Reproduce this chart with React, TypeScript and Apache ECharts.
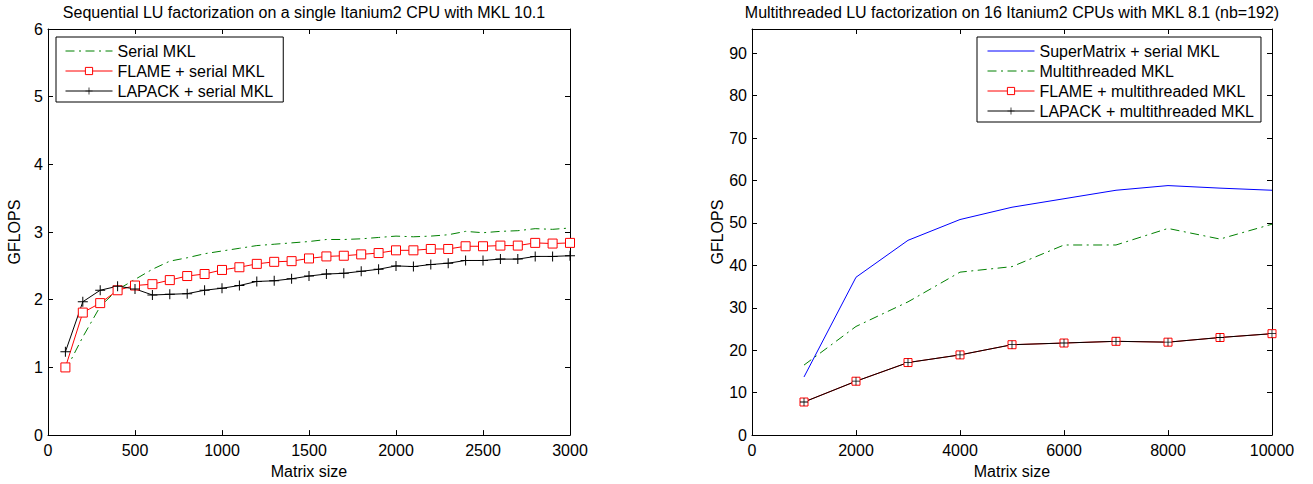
import React, { useEffect, useRef } from "react";
import * as echarts from "echarts";

// ---------- Data ----------
const leftSizes = [100, 200, 300, 400, 500, 600, 700, 800, 900, 1000, 1100, 1200, 1300, 1400, 1500, 1600, 1700, 1800, 1900, 2000, 2100, 2200, 2300, 2400, 2500, 2600, 2700, 2800, 2900, 3000];
const serialMKL = [0.95, 1.45, 1.9, 2.15, 2.3, 2.45, 2.57, 2.62, 2.68, 2.72, 2.76, 2.8, 2.82, 2.84, 2.86, 2.89, 2.89, 2.9, 2.92, 2.94, 2.93, 2.94, 2.96, 3.01, 2.99, 3.01, 3.02, 3.05, 3.04, 3.06];
const flameSerial = [1.0, 1.81, 1.95, 2.14, 2.21, 2.23, 2.29, 2.35, 2.38, 2.44, 2.48, 2.53, 2.56, 2.57, 2.61, 2.64, 2.65, 2.67, 2.69, 2.73, 2.73, 2.75, 2.75, 2.79, 2.79, 2.8, 2.8, 2.84, 2.83, 2.84];
const lapackSerial = [1.23, 1.97, 2.14, 2.2, 2.16, 2.07, 2.08, 2.09, 2.14, 2.17, 2.21, 2.27, 2.28, 2.31, 2.35, 2.38, 2.39, 2.42, 2.45, 2.5, 2.49, 2.52, 2.54, 2.58, 2.58, 2.6, 2.6, 2.64, 2.64, 2.65];

const rightSizes = [1000, 2000, 3000, 4000, 5000, 6000, 7000, 8000, 9000, 10000];
const superMatrix = [13.7, 37.2, 45.9, 50.8, 53.7, 55.7, 57.7, 58.8, 58.2, 57.7];
const multiMKL = [16.5, 25.6, 31.4, 38.4, 39.7, 44.8, 44.8, 48.7, 46.2, 49.7];
const flameMulti = [7.8, 12.7, 17.1, 18.9, 21.3, 21.7, 22.1, 21.9, 23.0, 23.9];
const lapackMulti = [7.8, 12.7, 17.1, 18.9, 21.3, 21.7, 22.1, 21.9, 23.0, 23.9];

const leftTitle = "Sequential LU factorization on a single Itanium2 CPU with MKL 10.1";
const rightTitle = "Multithreaded LU factorization on 16 Itanium2 CPUs with MKL 8.1 (nb=192)";
const xName = "Matrix size";
const yName = "GFLOPS";

const FONT = "Liberation Sans, Arial, Helvetica, sans-serif";
const PLUS = "path://M9,0H11V9H20V11H11V20H9V11H0V9H9Z";
const DASHDOT = [9, 4.5, 2, 4.5];

const pairs = (xs: number[], ys: number[]) => xs.map((x, i) => [x, ys[i]]);
const plain = (v: number) => String(v);

function axisBase(grid: number, min: number, max: number, interval: number) {
  return {
    gridIndex: grid,
    type: "value" as const,
    min,
    max,
    interval,
    splitLine: { show: false },
    axisLine: { show: true, onZero: false, lineStyle: { color: "#000", width: 1 } },
    axisTick: { show: true, inside: true, length: 5, lineStyle: { color: "#000", width: 1 } },
    axisLabel: { show: true, color: "#000", fontSize: 16, fontFamily: FONT, formatter: plain },
  };
}

export default function App() {
  const ref = useRef<HTMLDivElement>(null);
  useEffect(() => {
    if (!ref.current) return;
    const chart = echarts.init(ref.current, undefined, { renderer: "svg" });

    const nameStyle = { color: "#000", fontSize: 16, fontFamily: FONT };
    const xAxes: any[] = [];
    const yAxes: any[] = [];
    // left grid
    const lx = axisBase(0, 0, 3000, 500);
    xAxes.push({ ...lx, position: "bottom", axisLabel: { ...lx.axisLabel, margin: 7 }, name: xName, nameLocation: "middle", nameGap: 25, nameTextStyle: nameStyle });
    xAxes.push({ ...lx, position: "top", axisLabel: { show: false } });
    const ly = axisBase(0, 0, 6, 1);
    yAxes.push({ ...ly, position: "left", axisLabel: { ...ly.axisLabel, margin: 5 }, name: yName, nameLocation: "middle", nameGap: 26, nameTextStyle: nameStyle });
    yAxes.push({ ...ly, position: "right", axisLabel: { show: false } });
    // right grid
    const rx = axisBase(1, 0, 10000, 2000);
    xAxes.push({ ...rx, position: "bottom", axisLabel: { ...rx.axisLabel, margin: 7 }, name: xName, nameLocation: "middle", nameGap: 25, nameTextStyle: nameStyle });
    xAxes.push({ ...rx, position: "top", axisLabel: { show: false } });
    const ry = axisBase(1, 0, 95.7, 10);
    yAxes.push({ ...ry, position: "left", axisLabel: { ...ry.axisLabel, margin: 5, showMaxLabel: false }, name: yName, nameLocation: "middle", nameGap: 26, nameTextStyle: nameStyle });
    yAxes.push({ ...ry, position: "right", axisLabel: { show: false } });

    const legendBase = {
      orient: "vertical" as const,
      itemWidth: 47,
      itemHeight: 9,
      itemGap: 4,
      backgroundColor: "#fff",
      borderColor: "#000",
      borderWidth: 1,
      borderRadius: 0,
      textStyle: { color: "#000", fontSize: 16, fontFamily: FONT },
      lineStyle: { width: 1 },
      itemStyle: { borderWidth: 1 },
      selectedMode: false,
    };

    chart.setOption({
      animation: false,
      backgroundColor: "#fff",
      textStyle: { fontFamily: FONT },
      grid: [
        { left: 48, top: 29, width: 522, height: 411 },
        { left: 752, top: 29, width: 520, height: 411 },
      ],
      xAxis: xAxes,
      yAxis: yAxes,
      legend: [
        {
          ...legendBase,
          left: 56,
          top: 37,
          padding: [6, 10, 3, 9],
          data: [
            { name: "Serial MKL", itemStyle: { opacity: 0 } },
            { name: "FLAME + serial MKL" },
            { name: "LAPACK + serial MKL" },
          ],
        },
        {
          ...legendBase,
          left: 977,
          top: 37,
          padding: [6, 7, 3, 10],
          data: [
            { name: "SuperMatrix + serial MKL", itemStyle: { opacity: 0 } },
            { name: "Multithreaded MKL", itemStyle: { opacity: 0 } },
            { name: "FLAME + multithreaded MKL" },
            { name: "LAPACK + multithreaded MKL" },
          ],
        },
      ],
      graphic: [
        { type: "text", x: 304, y: 12, style: { text: leftTitle, textAlign: "center", textVerticalAlign: "middle", fontSize: 16, fontFamily: FONT, fill: "#000" } },
        { type: "text", x: 1012, y: 12, style: { text: rightTitle, textAlign: "center", textVerticalAlign: "middle", fontSize: 16, fontFamily: FONT, fill: "#000" } },
      ],
      series: [
        {
          name: "Serial MKL", type: "line", xAxisIndex: 0, yAxisIndex: 0,
          data: pairs(leftSizes, serialMKL), symbol: "none",
          itemStyle: { color: "#008000" },
          lineStyle: { color: "#008000", width: 1, type: DASHDOT },
        },
        {
          name: "FLAME + serial MKL", type: "line", xAxisIndex: 0, yAxisIndex: 0,
          data: pairs(leftSizes, flameSerial), symbol: "rect", symbolSize: 9,
          itemStyle: { color: "#fff", borderColor: "#ff0000", borderWidth: 1 },
          lineStyle: { color: "#ff0000", width: 1 },
        },
        {
          name: "LAPACK + serial MKL", type: "line", xAxisIndex: 0, yAxisIndex: 0,
          data: pairs(leftSizes, lapackSerial), symbol: PLUS, symbolSize: 10,
          itemStyle: { color: "#000" },
          lineStyle: { color: "#000", width: 1 },
        },
        {
          name: "SuperMatrix + serial MKL", type: "line", xAxisIndex: 2, yAxisIndex: 2,
          data: pairs(rightSizes, superMatrix), symbol: "none",
          itemStyle: { color: "#0000ff" },
          lineStyle: { color: "#0000ff", width: 1 },
        },
        {
          name: "Multithreaded MKL", type: "line", xAxisIndex: 2, yAxisIndex: 2,
          data: pairs(rightSizes, multiMKL), symbol: "none",
          itemStyle: { color: "#008000" },
          lineStyle: { color: "#008000", width: 1, type: DASHDOT },
        },
        {
          name: "FLAME + multithreaded MKL", type: "line", xAxisIndex: 2, yAxisIndex: 2,
          data: pairs(rightSizes, flameMulti), symbol: "rect", symbolSize: 8,
          itemStyle: { color: "#fff", borderColor: "#ff0000", borderWidth: 1 },
          lineStyle: { color: "#ff0000", width: 1 },
        },
        {
          name: "LAPACK + multithreaded MKL", type: "line", xAxisIndex: 2, yAxisIndex: 2,
          data: pairs(rightSizes, lapackMulti), symbol: PLUS, symbolSize: 8,
          itemStyle: { color: "#000" },
          lineStyle: { color: "#000", width: 1 },
        },
      ],
    });
    return () => chart.dispose();
  }, []);
  return (
    <div
      ref={ref}
      style={{ position: "absolute", left: 0, top: 0, width: 1313, height: 484 }}
    />
  );
}
